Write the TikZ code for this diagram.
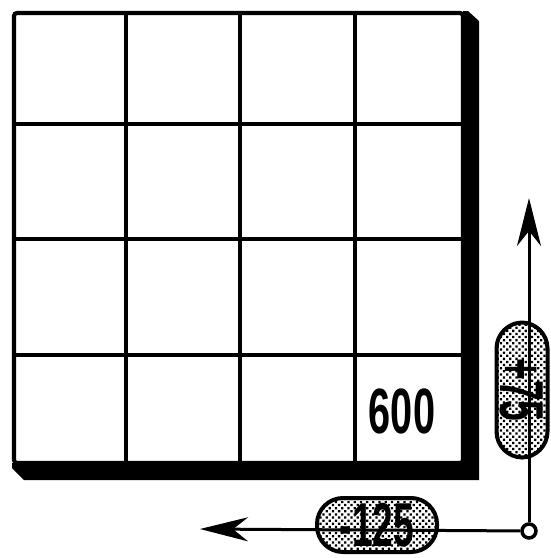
\documentclass[tikz,border=0pt]{standalone}
\usepackage{fontspec}
\newfontfamily\condfont[FakeStretch=0.6]{Liberation Sans}
\newfontfamily\cellfont[FakeStretch=0.62]{Liberation Sans}
\usetikzlibrary{arrows.meta,patterns.meta}
\begin{document}
\begin{tikzpicture}[x=1pt,y=-1pt,
  gridline/.style={line width=4pt},
  frameline/.style={line width=4.2pt,rounded corners=3pt},
  axis/.style={line width=3pt},
  axisarrow/.style={axis,-{Stealth[length=48pt,width=24pt,inset=15pt]}},
  origin/.style={circle,draw,line width=3.5pt,fill=white,minimum size=14pt,inner sep=0pt},
  pill/.style={draw,line width=4pt,rounded corners=26pt,
    pattern={Dots[distance=4.4pt,radius=1.6pt,angle=45]},
    inner sep=0pt,minimum height=54pt},
  pilltext/.style={font=\condfont\bfseries\fontsize{62}{62}\selectfont,inner sep=0pt},
  cellnum/.style={font=\cellfont\bfseries\fontsize{64}{64}\selectfont,inner sep=0pt}]
\useasboundingbox (0,0) rectangle (550,558);
% shadow of the frame
\fill (460,11) -- (468,11) -- (479,21) -- (479,480) -- (24,480) -- (12,468) -- (12,463) -- (463,463) -- (463,11) -- cycle;
% frame
\draw[frameline] (14,13) rectangle (463,463);
% grid
\foreach \gx in {126,240,355} \draw[gridline] (\gx,13) -- (\gx,463);
\foreach \gy in {124,239,355} \draw[gridline] (14,\gy) -- (463,\gy);
\node[cellnum] (c600) at (402,411) {600};
% axes
\coordinate (xe) at (200,529);
\coordinate (ye) at (529,198);
\node[origin] (o) at (529,531) {};
\draw[axisarrow] (o) -- (xe);
\draw[axisarrow] (o) -- (ye);
\node[pill,minimum width=120pt] (px) at (377,525) {};
\node[pilltext] (pxt) at (px.center) {-125};
\node[pill,minimum width=135pt,minimum height=51pt,rotate=-90] (py) at (522,390) {};
\node[pilltext,rotate=-90] (pyt) at (py.center) {+75};
\end{tikzpicture}
\end{document}
